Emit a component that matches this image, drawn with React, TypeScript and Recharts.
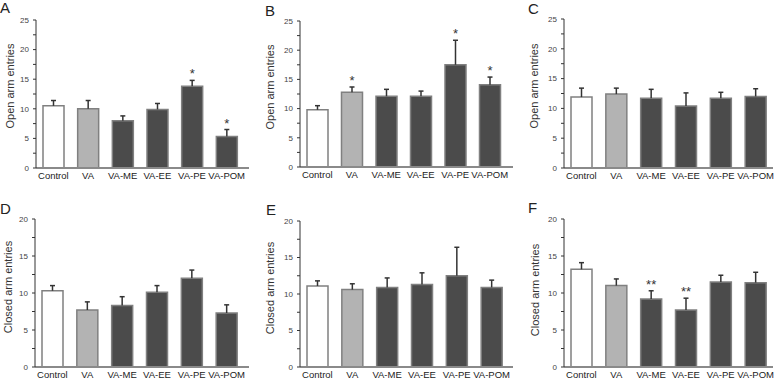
import { Bar, BarChart, Cell, LabelList, XAxis, YAxis } from "recharts";

const GROUPS = ["Control", "VA", "VA-ME", "VA-EE", "VA-PE", "VA-POM"];

// open arm entries
const openA = [10.5, 10.0, 8.0, 9.9, 13.8, 5.3];
const openAErr = [0.9, 1.4, 0.8, 1.0, 1.0, 1.2];
const openASig = ["", "", "", "", "*", "*"];

const openB = [9.8, 12.8, 12.1, 12.1, 17.5, 14.1];
const openBErr = [0.7, 0.9, 1.2, 0.9, 4.2, 1.3];
const openBSig = ["", "*", "", "", "*", "*"];

const openC = [11.9, 12.4, 11.7, 10.4, 11.7, 12.0];
const openCErr = [1.5, 1.0, 1.5, 2.2, 1.0, 1.3];
const openCSig = ["", "", "", "", "", ""];

// closed arm entries
const closedD = [10.3, 7.7, 8.3, 10.1, 12.0, 7.3];
const closedDErr = [0.7, 1.1, 1.2, 0.9, 1.1, 1.1];
const closedDSig = ["", "", "", "", "", ""];

const closedE = [11.1, 10.6, 10.9, 11.3, 12.5, 10.9];
const closedEErr = [0.7, 0.8, 1.3, 1.6, 3.9, 1.0];
const closedESig = ["", "", "", "", "", ""];

const closedF = [13.2, 11.0, 9.2, 7.7, 11.5, 11.4];
const closedFErr = [0.9, 0.9, 1.1, 1.6, 0.9, 1.4];
const closedFSig = ["", "", "**", "**", "", ""];

const OPEN_TICKS = [0, 2.5, 5, 7.5, 10, 12.5, 15, 17.5, 20, 22.5, 25];
const CLOSED_TICKS = [0, 2.5, 5, 7.5, 10, 12.5, 15, 17.5, 20];

const FILLS = ["#ffffff", "#b3b3b3", "#4b4b4b", "#4b4b4b", "#4b4b4b", "#4b4b4b"];
const FONT = "'Liberation Sans', Arial, sans-serif";
const YW = 30;
const MT = 10;

type PanelProps = {
  letter: string;
  yLabel: string;
  values: number[];
  errs: number[];
  sig: string[];
  ticks: number[];
  axisX: number;
  top: number;
  bottom: number;
  right: number;
  padRight: number;
  letterPos: [number, number];
  labelPos: [number, number];
};

function ErrShape(p: any) {
  const cx = p.x + p.width / 2;
  return (
    <g stroke="#333" strokeWidth={1.5}>
      <line x1={cx} x2={cx} y1={p.y + p.height} y2={p.y} />
      <line x1={cx - 2.5} x2={cx + 2.5} y1={p.y} y2={p.y} />
    </g>
  );
}

function Panel(props: PanelProps) {
  const { values, errs, sig, ticks, axisX, top, bottom, right, padRight } = props;
  const data = GROUPS.map((g, i) => ({ name: g, value: values[i], err: errs[i], sig: sig[i] }));
  const left = axisX - YW;
  const chartTop = top - MT;
  const w = right - left + 2;
  const h = bottom + 20 - chartTop;
  return (
    <>
      <div
        style={{
          position: "absolute",
          left: props.letterPos[0],
          top: props.letterPos[1],
          fontFamily: FONT,
          fontSize: 15,
          lineHeight: "15px",
          color: "#222",
        }}
      >
        {props.letter}
      </div>
      <div
        style={{
          position: "absolute",
          left: props.labelPos[0],
          top: props.labelPos[1],
          transform: "translate(-50%, -50%) rotate(-90deg)",
          whiteSpace: "nowrap",
          fontFamily: FONT,
          fontSize: 11,
          color: "#333",
        }}
      >
        {props.yLabel}
      </div>
      <div style={{ position: "absolute", left, top: chartTop }}>
        <BarChart
          width={w}
          height={h}
          data={data}
          margin={{ top: MT, right: 2, left: 0, bottom: 0 }}
          barSize={21}
        >
          <XAxis
            dataKey="name"
            interval={0}
            tickLine={false}
            tickSize={2}
            tickMargin={2}
            height={20}
            padding={{ left: 0, right: padRight }}
            axisLine={{ stroke: "#8a8a8a", strokeWidth: 2 }}
            tick={{ fontSize: 9.5, fill: "#222", fontFamily: FONT }}
          />
          <YAxis
            width={YW}
            domain={[0, ticks[ticks.length - 1]]}
            ticks={ticks}
            interval={0}
            tickSize={3}
            tickMargin={4}
            tickFormatter={(v: number) => (v % 5 === 0 ? String(v) : "")}
            axisLine={{ stroke: "#333" }}
            tickLine={{ stroke: "#333" }}
            tick={{ fontSize: 8, fill: "#444", fontFamily: FONT }}
          />
          <Bar dataKey="value" stackId="s" stroke="#808080" strokeWidth={1.5} isAnimationActive={false}>
            {data.map((d, i) => (
              <Cell key={d.name} fill={FILLS[i]} />
            ))}
          </Bar>
          <Bar dataKey="err" stackId="s" fill="none" shape={ErrShape} isAnimationActive={false}>
            <LabelList
              dataKey="sig"
              content={(p: any) =>
                p.value ? (
                  <text
                    x={p.x + p.width / 2}
                    y={p.y - 2}
                    textAnchor="middle"
                    fontSize={13}
                    fill="#333"
                    fontFamily={FONT}
                  >
                    {p.value}
                  </text>
                ) : null
              }
            />
          </Bar>
        </BarChart>
      </div>
    </>
  );
}

export default function App() {
  return (
    <div style={{ position: "absolute", left: 0, top: 0, width: 777, height: 380, background: "#fff", overflow: "hidden" }}>
      <Panel letter="A" yLabel="Open arm entries" values={openA} errs={openAErr} sig={openASig} ticks={OPEN_TICKS}
        axisX={36} top={20} bottom={168} right={249} padRight={5} letterPos={[0, 0]} labelPos={[10, 86]} />
      <Panel letter="B" yLabel="Open arm entries" values={openB} errs={openBErr} sig={openBSig} ticks={OPEN_TICKS}
        axisX={300} top={21} bottom={167} right={513} padRight={6} letterPos={[265, 3]} labelPos={[270, 87]} />
      <Panel letter="C" yLabel="Open arm entries" values={openC} errs={openCErr} sig={openCSig} ticks={OPEN_TICKS}
        axisX={564} top={19} bottom={168} right={773} padRight={0} letterPos={[528, 1]} labelPos={[534, 86]} />
      <Panel letter="D" yLabel="Closed arm entries" values={closedD} errs={closedDErr} sig={closedDSig} ticks={CLOSED_TICKS}
        axisX={35} top={219} bottom={367} right={249} padRight={5} letterPos={[0, 201]} labelPos={[8, 287]} />
      <Panel letter="E" yLabel="Closed arm entries" values={closedE} errs={closedEErr} sig={closedESig} ticks={CLOSED_TICKS}
        axisX={300} top={221} bottom={367} right={513} padRight={4} letterPos={[266, 202]} labelPos={[270, 288]} />
      <Panel letter="F" yLabel="Closed arm entries" values={closedF} errs={closedFErr} sig={closedFSig} ticks={CLOSED_TICKS}
        axisX={564} top={219} bottom={367} right={773} padRight={0} letterPos={[528, 200]} labelPos={[535, 290]} />
    </div>
  );
}
